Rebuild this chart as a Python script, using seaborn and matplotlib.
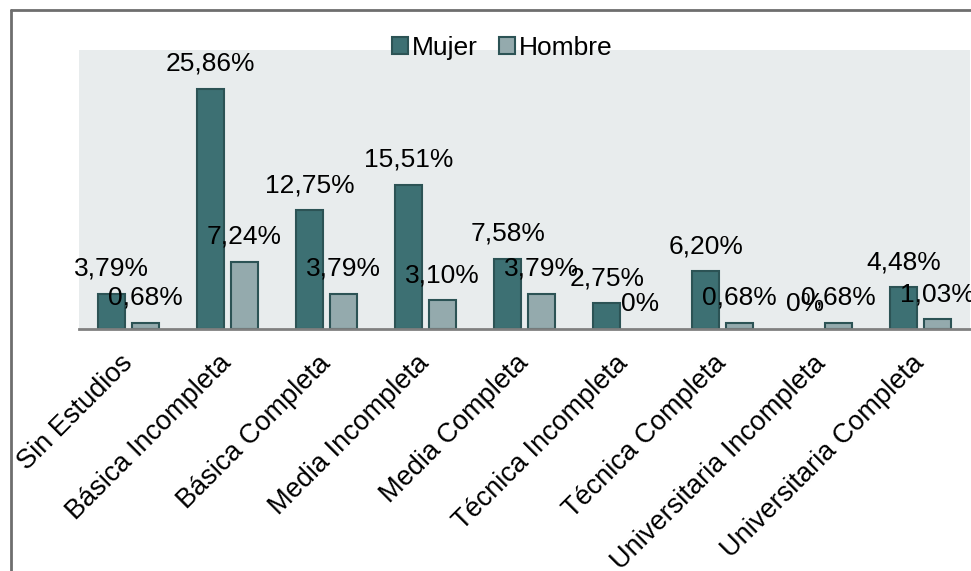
import matplotlib
matplotlib.use("Agg")
import matplotlib.pyplot as plt
import seaborn as sns
import pandas as pd
from matplotlib.lines import Line2D

categories = ["Sin Estudios", "Básica Incompleta", "Básica Completa", "Media Incompleta",
              "Media Completa", "Técnica Incompleta", "Técnica Completa",
              "Universitaria Incompleta", "Universitaria Completa"]
mujer = [3.79, 25.86, 12.75, 15.51, 7.58, 2.75, 6.20, 0.0, 4.48]
hombre = [0.68, 7.24, 3.79, 3.10, 3.79, 0.0, 0.68, 0.68, 1.03]
mujer_labels = ["3,79%", "25,86%", "12,75%", "15,51%", "7,58%", "2,75%", "6,20%", "0%", "4,48%"]
hombre_labels = ["0,68%", "7,24%", "3,79%", "3,10%", "3,79%", "0%", "0,68%", "0,68%", "1,03%"]
series = ["Mujer", "Hombre"]

df = pd.DataFrame({
    "cat": categories * 2,
    "val": mujer + hombre,
    "sexo": [series[0]] * len(categories) + [series[1]] * len(categories),
})

sns.set_theme(style="white")
plt.rcParams["font.family"] = ["Liberation Sans", "DejaVu Sans"]
plt.rcParams["text.color"] = "black"

fig = plt.figure(figsize=(9.71, 5.71), dpi=100)
ax = fig.add_axes([79 / 971, 1 - 329 / 571, (970 - 79) / 971, (329 - 50) / 571])
ax.set_facecolor("#E8ECED")

palette = {"Mujer": "#3D7073", "Hombre": "#94AAAD"}
sns.barplot(data=df, x="cat", y="val", hue="sexo", hue_order=series, order=categories,
            palette=palette, width=0.676, gap=0.2, edgecolor="#2C5355", linewidth=1.5,
            saturation=1, ax=ax, errorbar=None)

ax.set_ylim(0, 30)
ax.set_xlim(-0.5, len(categories) - 0.5)
ax.set_xlabel("")
ax.set_ylabel("")
ax.set_yticks([])
for s in ["left", "right", "top"]:
    ax.spines[s].set_visible(False)
ax.spines["bottom"].set_color("#808080")
ax.spines["bottom"].set_linewidth(2)
ax.tick_params(axis="x", length=0, pad=22)
ax.set_xticks(range(len(categories)))
ax.set_xticklabels(categories, rotation=45, ha="right", va="center", rotation_mode="anchor",
                   fontsize=19.5, color="#000000")

for cont, labels in zip(ax.containers, [mujer_labels, hombre_labels]):
    for bar, lab in zip(cont, labels):
        if bar.get_height() == 0:
            bar.set_linewidth(0)
        ax.annotate(lab, (bar.get_x() + bar.get_width() / 2, bar.get_height()),
                    xytext=(0, 18), textcoords="offset points",
                    ha="center", va="center", fontsize=19, color="#000000")

handles, labs = ax.get_legend_handles_labels()
leg = ax.legend(handles, labs, loc="center", bbox_to_anchor=(502 / 971, 1 - 48 / 571),
                bbox_transform=fig.transFigure, ncol=2, frameon=False, fontsize=19,
                handlelength=0.6, handleheight=0.6, handletextpad=0.15, columnspacing=0.8,
                borderpad=0.0, borderaxespad=0, labelcolor="black")

# outer frame (left and top edges)
fig.add_artist(Line2D([11 / 971, 11 / 971], [0, 1 - 9.5 / 571], transform=fig.transFigure,
                      color="#6E6E6E", linewidth=2))
fig.add_artist(Line2D([11 / 971, 1], [1 - 9.5 / 571, 1 - 9.5 / 571], transform=fig.transFigure,
                      color="#6E6E6E", linewidth=2))

fig.savefig("out.png", dpi=100, facecolor="white")
